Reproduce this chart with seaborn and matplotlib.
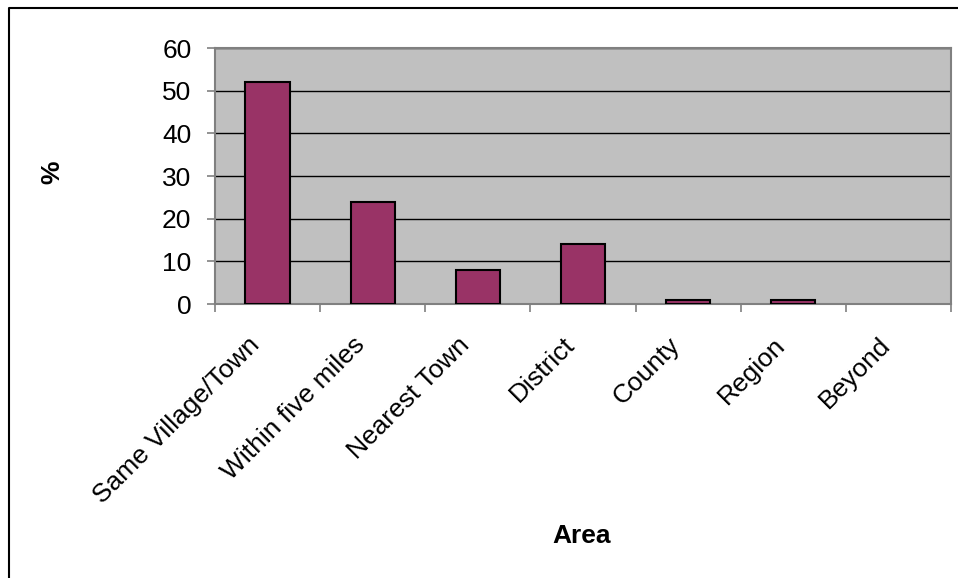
import numpy as np
import pandas as pd
import seaborn as sns
import matplotlib.pyplot as plt
from matplotlib.lines import Line2D
from matplotlib.ticker import FixedLocator
from matplotlib.transforms import ScaledTranslation

# data
areas = ["Same Village/Town", "Within five miles", "Nearest Town",
         "District", "County", "Region", "Beyond"]
percent = [52, 24, 8, 14, 1, 1, 0]
y_ticks = [0, 10, 20, 30, 40, 50, 60]

df = pd.DataFrame({"Area": areas, "pct": percent})

sns.set_style("white")
plt.rcParams["font.family"] = ["Liberation Sans", "DejaVu Sans"]
plt.rcParams["text.color"] = "black"
plt.rcParams["xtick.labelcolor"] = "black"
plt.rcParams["ytick.labelcolor"] = "black"

FS = 19

W, H = 958, 578
fig = plt.figure(figsize=(W / 100, H / 100), dpi=100)
ax = fig.add_axes([215 / W, 1 - 304 / H, (951 - 215) / W, (304 - 48) / H])

sns.barplot(data=df, x="Area", y="pct", color="#993366", saturation=1,
            width=0.42, edgecolor="black", linewidth=1.5, ax=ax, zorder=3)
# a zero-height bar shows nothing in the original
for p in ax.patches:
    if p.get_height() == 0:
        p.set_visible(False)

ax.set_facecolor("#C0C0C0")
ax.set_xlim(-0.5, len(areas) - 0.5)
ax.set_ylim(0, 60)
ax.set_yticks(y_ticks)
ax.grid(axis="y", color="black", linewidth=1, zorder=1)
ax.set_axisbelow(True)

for s in ax.spines.values():
    s.set_color("#808080")
    s.set_linewidth(1.5)
    s.set_visible(True)

# Excel style: ticks between categories, labels at centres
ax.xaxis.set_minor_locator(FixedLocator(np.arange(-0.5, len(areas), 1.0)))
ax.tick_params(axis="x", which="minor", length=6, width=1.2, color="#808080",
               direction="out", bottom=True)
ax.tick_params(axis="x", which="major", length=0, pad=29, labelsize=FS,
               labelcolor="black")
ax.tick_params(axis="y", which="major", length=6, width=1.2, color="#808080",
               direction="out", left=True, pad=11, labelsize=FS,
               labelcolor="black")
shift = ScaledTranslation(-12 / 100, 3 / 100, fig.dpi_scale_trans)
for lab in ax.get_xticklabels():
    lab.set_rotation(45)
    lab.set_ha("right")
    lab.set_va("center")
    lab.set_rotation_mode("anchor")
    lab.set_transform(lab.get_transform() + shift)

ax.set_xlabel("")
ax.set_ylabel("")
fig.text(582 / W, 1 - 536 / H, "Area", ha="center", va="center",
         fontsize=FS, fontweight="bold", color="black")
fig.text(52 / W, 1 - 172 / H, "%", ha="center", va="center", rotation=90,
         fontsize=FS, fontweight="bold", color="black")

# outer chart border
bx, by = 8.5 / W, 1 - 7.5 / H
fig.add_artist(Line2D([bx, bx, 1.0], [0.0, by, by], color="black",
                      linewidth=1.5, transform=fig.transFigure))

fig.savefig("out.png", dpi=100)
